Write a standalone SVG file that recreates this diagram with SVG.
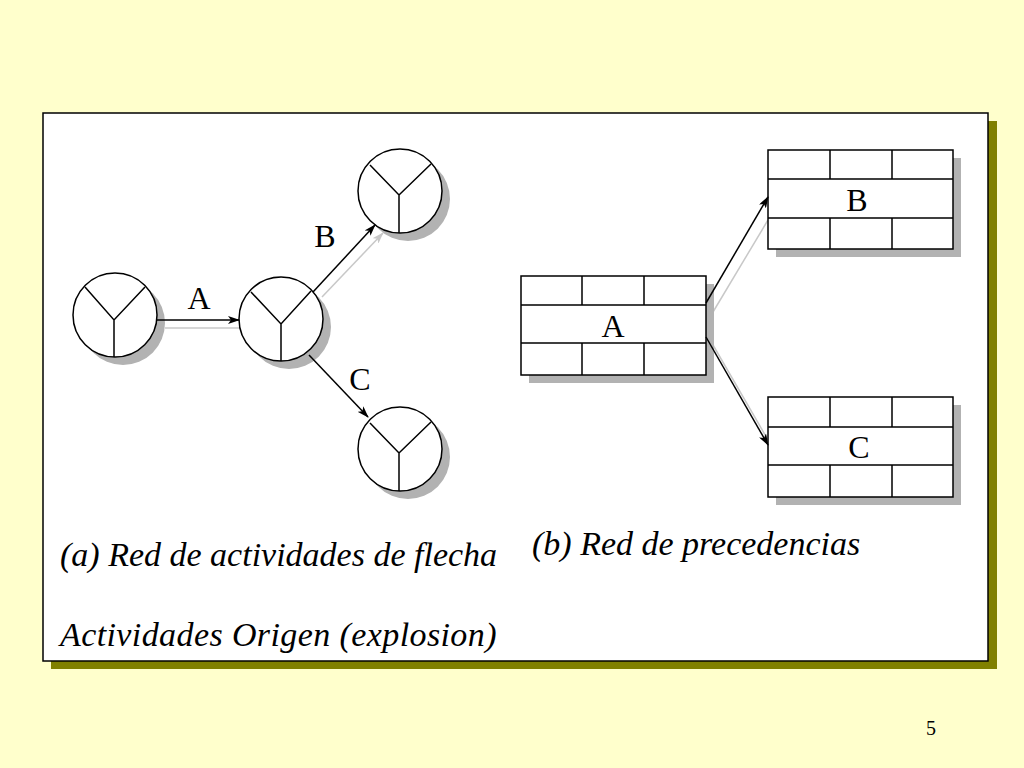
<svg xmlns="http://www.w3.org/2000/svg" width="1024" height="768" viewBox="0 0 1024 768">
<defs>
<style>
.node{fill:#fff;stroke:#000;stroke-width:1.5}
.sh{fill:#b2b2b2}
.ln{stroke:#000;stroke-width:1.5;fill:none}
.gl{stroke:#c8c8c8;stroke-width:1.5;fill:none}
.lbl{font-family:"Liberation Serif","Times New Roman",serif;font-size:32px;fill:#000;text-anchor:middle}
.cap{font-family:"Liberation Serif","Times New Roman",serif;font-style:italic;font-size:34px;fill:#000}
</style>
<marker id="ah" viewBox="0 0 12 8" refX="11" refY="4" markerWidth="12" markerHeight="8" markerUnits="userSpaceOnUse" orient="auto">
<path d="M0,0 L12,4 L0,8 L3,4 Z" fill="#000"/>
</marker>
<marker id="ahg" viewBox="0 0 12 8" refX="11" refY="4" markerWidth="12" markerHeight="8" markerUnits="userSpaceOnUse" orient="auto">
<path d="M0,0 L12,4 L0,8 L3,4 Z" fill="#c8c8c8"/>
</marker>
</defs>
<rect width="1024" height="768" fill="#FFFFCC"/>
<g id="frame">
<rect x="51" y="121" width="946" height="548" fill="#808000"/>
<rect x="43" y="113" width="945" height="548" fill="#fff" stroke="#000" stroke-width="1.5"/>
</g>
<g id="connector-shadows">
<line class="gl" x1="165" y1="328" x2="240" y2="328"/>
<line class="gl" x1="322" y1="297" x2="383" y2="233" marker-end="url(#ahg)"/>
<line class="gl" x1="713" y1="312" x2="768" y2="220"/>
<line class="gl" x1="713" y1="345" x2="768" y2="440"/>
</g>
<g id="n1">
<circle class="sh" cx="123" cy="323" r="42"/>
<circle class="node" cx="115" cy="315" r="42"/>
<path class="ln" d="M85,287 L114,320 L145,287 M114,320 L114,357"/>
</g>
<g id="n2">
<circle class="sh" cx="289" cy="327" r="42"/>
<circle class="node" cx="281" cy="319" r="42"/>
<path class="ln" d="M251,292 L281,324 L311,291 M281,324 L281,361"/>
</g>
<g id="n3">
<circle class="sh" cx="408" cy="199" r="42"/>
<circle class="node" cx="400" cy="191" r="42"/>
<path class="ln" d="M370,165 L399,195 L431,164 M399,195 L399,233"/>
</g>
<g id="n4">
<circle class="sh" cx="408" cy="457" r="42"/>
<circle class="node" cx="400" cy="449" r="42"/>
<path class="ln" d="M370,423 L399,453 L431,422 M399,453 L399,491"/>
</g>
<g id="bA">
<rect class="sh" x="529" y="284" width="185" height="99"/>
<rect class="node" x="521" y="276" width="185" height="99"/>
<path class="ln" d="M521,305 H706 M521,343 H706 M582,276 V305 M644,276 V305 M582,343 V375 M644,343 V375"/>
<text class="lbl" x="613" y="337">A</text>
</g>
<g id="bB">
<rect class="sh" x="776" y="158" width="185" height="99"/>
<rect class="node" x="768" y="150" width="185" height="99"/>
<path class="ln" d="M768,179 H953 M768,218 H953 M830,150 V179 M892,150 V179 M830,218 V249 M892,218 V249"/>
<text class="lbl" x="857" y="211">B</text>
</g>
<g id="bC">
<rect class="sh" x="776" y="405" width="185" height="100"/>
<rect class="node" x="768" y="397" width="185" height="100"/>
<path class="ln" d="M768,427 H953 M768,465 H953 M830,397 V427 M892,397 V427 M830,465 V497 M892,465 V497"/>
<text class="lbl" x="859" y="458">C</text>
</g>
<g id="connectors">
<line class="ln" x1="157" y1="320" x2="239" y2="320" marker-end="url(#ah)"/>
<line class="ln" x1="313" y1="292" x2="375" y2="225" marker-end="url(#ah)"/>
<line class="ln" x1="309" y1="355" x2="368" y2="417" marker-end="url(#ah)"/>
<line class="ln" x1="706" y1="303" x2="768" y2="197" marker-end="url(#ah)"/>
<line class="ln" x1="706" y1="337" x2="768" y2="445" marker-end="url(#ah)"/>
</g>
<g id="labels">
<text class="lbl" x="199" y="309">A</text>
<text class="lbl" x="325" y="247">B</text>
<text class="lbl" x="360" y="390">C</text>
<text class="cap" x="60" y="566">(a) Red de actividades de flecha</text>
<text class="cap" x="532" y="555">(b) Red de precedencias</text>
<text class="cap" x="60" y="646" letter-spacing="0.4">Actividades Origen (explosion)</text>
<text x="931" y="735" font-family="'Liberation Serif','Times New Roman',serif" font-size="20" text-anchor="middle">5</text>
</g>
</svg>
